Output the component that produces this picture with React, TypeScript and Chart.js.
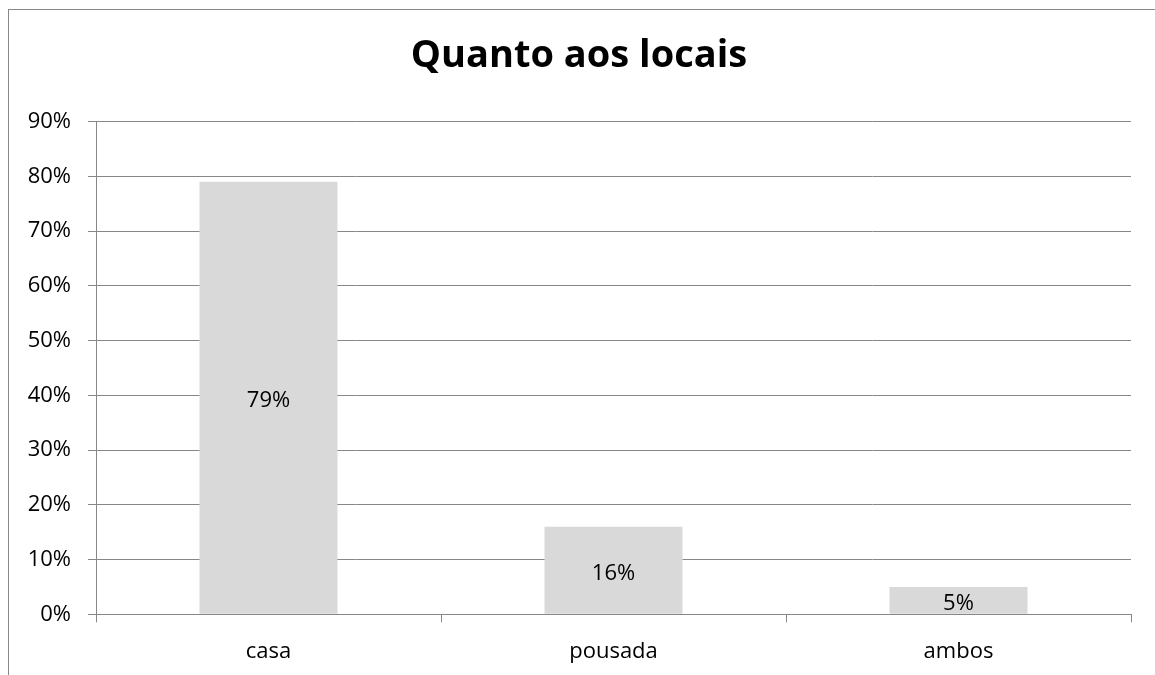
import React, { useEffect, useRef } from "react";
import { Chart, registerables } from "chart.js";

Chart.register(...registerables);

const TITLE = "Quanto aos locais";
const categories = ["casa", "pousada", "ambos"];
const values = [79, 16, 5];
const valueLabels = ["79%", "16%", "5%"];
const yMax = 90;
const yStep = 10;

const FONT = "'Open Sans', Lato, sans-serif";
const GRID = "#878787";

const barLabelPlugin = {
  id: "barLabels",
  afterDatasetsDraw(chart: any) {
    const ctx = chart.ctx;
    const meta = chart.getDatasetMeta(0);
    ctx.save();
    ctx.font = `22px ${FONT}`;
    ctx.fillStyle = "#000000";
    ctx.textAlign = "center";
    ctx.textBaseline = "middle";
    meta.data.forEach((bar: any, i: number) => {
      const y = (bar.y + bar.base) / 2 + 3;
      ctx.fillText(valueLabels[i], bar.x, y);
    });
    ctx.restore();
  },
};

export default function App() {
  const ref = useRef<HTMLCanvasElement | null>(null);

  useEffect(() => {
    if (!ref.current) return;
    const chart = new Chart(ref.current, {
      type: "bar",
      data: {
        labels: categories,
        datasets: [
          {
            data: values,
            backgroundColor: "#d9d9d9",
            borderWidth: 0,
            categoryPercentage: 1,
            barPercentage: 0.4,
          },
        ],
      },
      options: {
        animation: false,
        responsive: false,
        layout: { padding: { left: 18, right: 24, top: 0, bottom: 0 } },
        plugins: {
          legend: { display: false },
          tooltip: { enabled: false },
          title: {
            display: true,
            text: TITLE,
            color: "#000000",
            font: { family: FONT, size: 38, weight: "bold" },
            padding: { top: 23, bottom: 43 },
          },
        },
        scales: {
          x: {
            grid: {
              display: true,
              drawOnChartArea: false,
              drawTicks: true,
              tickLength: 8,
              color: GRID,
              offset: true,
            },
            border: { display: true, color: GRID, width: 1 },
            ticks: {
              color: "#000000",
              font: { family: FONT, size: 22 },
              padding: 16,
              maxRotation: 0,
            },
            afterFit(scale: any) {
              scale.height = 60.7;
            },
          },
          y: {
            min: 0,
            max: yMax,
            grid: {
              color: GRID,
              drawTicks: true,
              tickLength: 8,
            },
            border: { display: true, color: GRID, width: 1 },
            ticks: {
              stepSize: yStep,
              color: "#000000",
              font: { family: FONT, size: 22 },
              padding: 17,
              callback: (v: any) => `${v}%`,
            },
            afterFit(scale: any) {
              scale.width = 69;
            },
          },
        },
      },
      plugins: [barLabelPlugin],
    });
    return () => chart.destroy();
  }, []);

  return (
    <div
      style={{
        position: "fixed",
        left: 8,
        top: 9,
        width: 1147,
        height: 666,
        borderLeft: `1px solid ${GRID}`,
        borderTop: `1px solid ${GRID}`,
        boxSizing: "border-box",
        background: "#ffffff",
      }}
    >
      <canvas ref={ref} width={1146} height={665} style={{ display: "block" }} />
    </div>
  );
}
